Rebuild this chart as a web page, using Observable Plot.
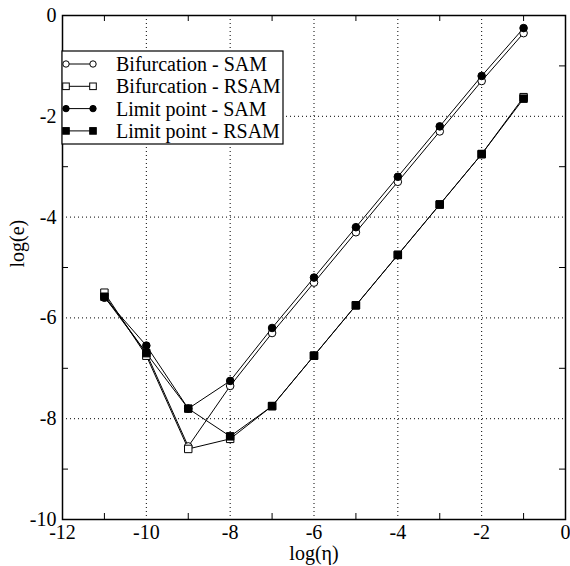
<!DOCTYPE html>
<html>
<head>
<meta charset="utf-8">
<script src="https://cdn.jsdelivr.net/npm/d3@7"></script>
<script src="https://cdn.jsdelivr.net/npm/@observablehq/plot@0.6"></script>
<style>
  html, body { margin: 0; padding: 0; background: white; }
  svg { display: block; }
  svg, svg text { font-family: 'Liberation Serif', 'Times New Roman', serif !important; }
</style>
</head>
<body>
<div id="chart"></div>
<script>
// ---- data ----
const logEta = [-11, -10, -9, -8, -7, -6, -5, -4, -3, -2, -1];
const bifurcationSAM  = [-5.55, -6.70, -8.55, -7.35, -6.30, -5.30, -4.30, -3.30, -2.30, -1.30, -0.35];
const bifurcationRSAM = [-5.50, -6.75, -8.60, -8.40, -7.75, -6.75, -5.75, -4.75, -3.75, -2.75, -1.62];
const limitSAM        = [-5.60, -6.55, -7.80, -7.25, -6.20, -5.20, -4.20, -3.20, -2.20, -1.20, -0.25];
const limitRSAM       = [-5.58, -6.70, -7.80, -8.35, -7.75, -6.75, -5.75, -4.75, -3.75, -2.75, -1.65];
const seriesNames = ["Bifurcation - SAM", "Bifurcation - RSAM", "Limit point - SAM", "Limit point - RSAM"];
const xMajorTicks = [-12, -10, -8, -6, -4, -2, 0];
const yMajorTicks = [-10, -8, -6, -4, -2, 0];
const xGrid = [-10, -8, -6, -4, -2];
const yGrid = [-8, -6, -4, -2];
const xMinor = [-11, -9, -7, -5, -3, -1];
const yMinor = [-9, -7, -5, -3, -1];

// ---- styling per series (not data) ----
const seriesStyle = {
  "Bifurcation - SAM":  {symbol: "circle", fill: "white"},
  "Bifurcation - RSAM": {symbol: "square", fill: "white"},
  "Limit point - SAM":  {symbol: "circle", fill: "black"},
  "Limit point - RSAM": {symbol: "square", fill: "black"}
};

const seriesValues = [bifurcationSAM, bifurcationRSAM, limitSAM, limitRSAM];
const rows = [];
seriesNames.forEach((name, i) => {
  logEta.forEach((x, j) => rows.push({series: name, x, y: seriesValues[i][j]}));
});

const W = 570, H = 566;
const mL = 62, mR = 5, mT = 15, mB = 47;
const plotW = W - mL - mR, plotH = H - mT - mB;
const FS = 20;
const fmt = d => d === 0 ? "0" : "-" + Math.abs(d);

const marks = [
  Plot.gridX(xGrid, {stroke: "black", strokeOpacity: 1, strokeWidth: 1, strokeDasharray: "1,3"}),
  Plot.gridY(yGrid, {stroke: "black", strokeOpacity: 1, strokeWidth: 1, strokeDasharray: "1,3"}),
  // inward minor ticks on all four sides
  Plot.tickX(xMinor, {x: d => d, insetTop: plotH - 6, stroke: "black"}),
  Plot.tickX(xMinor, {x: d => d, insetBottom: plotH - 6, stroke: "black"}),
  Plot.tickY(yMinor, {y: d => d, insetRight: plotW - 6, stroke: "black"}),
  Plot.tickY(yMinor, {y: d => d, insetLeft: plotW - 6, stroke: "black"}),
  Plot.axisX(xMajorTicks, {tickSize: 0, tickPadding: 5, fontSize: FS, label: null, tickFormat: fmt}),
  Plot.axisY(yMajorTicks, {tickSize: 0, tickPadding: 6, fontSize: FS, label: null, tickFormat: fmt}),
  Plot.line(rows, {x: "x", y: "y", z: "series", stroke: "black", strokeWidth: 1})
];
seriesNames.forEach(name => {
  const st = seriesStyle[name];
  marks.push(Plot.dot(rows.filter(d => d.series === name), {
    x: "x", y: "y", symbol: st.symbol, fill: st.fill, stroke: "black", strokeWidth: 1,
    r: st.symbol === "circle" ? 3.8 : 4.2
  }));
});
marks.push(
  Plot.frame({stroke: "black", strokeWidth: 1.5}),
  Plot.text(["log(η)"], {frameAnchor: "bottom", dy: 40, fontSize: FS, text: d => d}),
  Plot.text(["log(e)"], {frameAnchor: "left", dx: -45, rotate: -90, fontSize: FS, text: d => d})
);

const svg = Plot.plot({
  width: W, height: H,
  marginLeft: mL, marginRight: mR, marginTop: mT, marginBottom: mB,
  x: {domain: [-12, 0]},
  y: {domain: [-10, 0]},
  style: {fontSize: FS + "px", color: "black", background: "white"},
  marks
});

// ---- legend (opaque box inside the plot, top-left) ----
const g = d3.select(svg).append("g").attr("text-anchor", "start");
const boxX = mL, boxY = 51, boxW = 221, boxH = 93;
g.append("rect").attr("x", boxX).attr("y", boxY).attr("width", boxW).attr("height", boxH)
  .attr("fill", "white").attr("stroke", "black").attr("stroke-width", 1.2);
seriesNames.forEach((name, i) => {
  const st = seriesStyle[name];
  const cy = 64 + i * 22.3;
  const x1 = 66, x2 = 93;
  g.append("line").attr("x1", x1).attr("x2", x2).attr("y1", cy).attr("y2", cy).attr("stroke", "black");
  [x1, x2].forEach(cx => {
    if (st.symbol === "circle") {
      g.append("circle").attr("cx", cx).attr("cy", cy).attr("r", 3.2)
        .attr("fill", st.fill).attr("stroke", "black");
    } else {
      g.append("rect").attr("x", cx - 3.3).attr("y", cy - 3.3).attr("width", 6.6).attr("height", 6.6)
        .attr("fill", st.fill).attr("stroke", "black");
    }
  });
  g.append("text").attr("x", 116).attr("y", cy).attr("dy", "0.35em").attr("text-anchor", "start")
    .attr("font-size", FS).attr("fill", "black").text(name);
});

document.getElementById("chart").appendChild(svg);
</script>
</body>
</html>
